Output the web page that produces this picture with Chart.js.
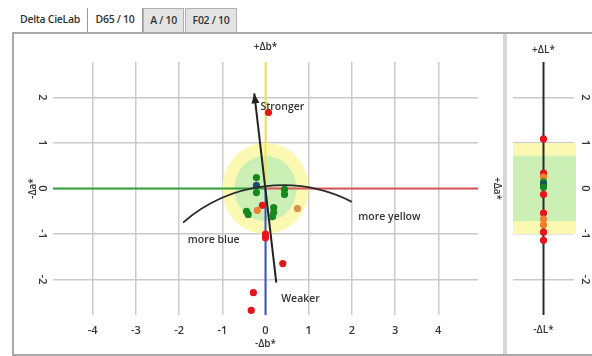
<!DOCTYPE html>
<html>
<head>
<meta charset="utf-8">
<script src="https://cdn.jsdelivr.net/npm/chart.js@4.4.0/dist/chart.umd.min.js"></script>
<style>
  body { margin: 0; width: 592px; height: 356px; background: #fff; position: relative; overflow: hidden; font-family: "Open Sans", "Noto Sans", sans-serif; }
  .tab { position: absolute; top: 8px; height: 25px; line-height: 22px; font-size: 10.5px; font-weight: 600; color: #333; box-sizing: border-box; text-align: center; letter-spacing: -0.3px; }
  #panel { position: absolute; left: 12px; top: 32px; width: 600px; height: 320px; border: 2px solid #a9a9a9; border-right: none; }
  #sep { position: absolute; left: 503px; top: 34px; width: 4px; height: 320px; background: #d6d6d6; }
  #mainWrap { position: absolute; left: 14px; top: 35px; }
  #sideWrap { position: absolute; left: 507px; top: 35px; }
</style>
</head>
<body>
<div class="tab" style="left:13px;width:75px;border-right:1px solid #9a9a9a;">Delta CieLab</div>
<div class="tab" style="left:88px;width:55px;border-right:1px solid #9a9a9a;background:#fff;">D65 / 10</div>
<div class="tab" style="left:143px;width:41px;background:#e3e3e3;border:1px solid #b0b0b0;">A / 10</div>
<div class="tab" style="left:185px;width:52px;background:#e3e3e3;border:1px solid #b0b0b0;">F02 / 10</div>
<div id="panel"></div>
<div id="sep"></div>
<div id="mainWrap"><canvas id="mainChart" width="489" height="317"></canvas></div>
<div id="sideWrap"><canvas id="sideChart" width="83" height="317"></canvas></div>

<script>
// ---- data ----
const aTicks = [-4, -3, -2, -1, 0, 1, 2, 3, 4];
const bTicks = [-2, -1, 0, 1, 2];
const aRange = [-4.92, 4.92];
const bRange = [-2.78, 2.78];

// samples: da* (horizontal), db* (vertical)
const sampleDa = [-0.21, -0.21, -0.21, 0.44, 0.44, -0.07, -0.19, -0.44, -0.40, 0.19, 0.19, 0.16, 0.74, 0.00, 0.00, 0.07, 0.40, -0.28, -0.33];
const sampleDb = [0.24, 0.07, -0.09, -0.02, -0.13, -0.37, -0.48, -0.50, -0.57, -0.42, -0.53, -0.62, -0.44, -1.00, -1.08, 1.67, -1.65, -2.29, -2.68];
const sampleGrade = ["pass", "std", "pass", "pass", "pass", "fail", "warn", "pass", "pass", "pass", "pass", "pass", "tan", "fail", "fail", "fail", "fail", "fail", "fail"];

// dL* strip
const lightTicks = [-2, -1, 0, 1, 2];
const lightDL = [1.09, 0.34, 0.25, 0.14, 0.09, 0.03, -0.13, -0.54, -0.67, -0.80, -0.96, -1.14];
const lightGrade = ["fail", "fail", "warn", "pass", "std", "pass", "fail", "fail", "warn", "warn", "fail", "fail"];

// tolerance, chroma direction, hue arc
const tolOuter = 1.0;
const tolInner = 0.72;
const chromaLine = [[0.25, -2.07], [-0.26, 2.09]];
const hueArcCenter = [0.40, -3.27];
const hueArcRadius = 3.52;
const hueArcAngles = [-131, -63];

const noteText = ["Stronger", "Weaker", "more blue", "more yellow"];
const noteA = [0.39, 0.81, -1.2, 2.87];
const noteB = [1.78, -2.42, -1.14, -0.62];

// ---- style ----
const family = '"Open Sans", "Noto Sans", sans-serif';
const ink = "#333";
const gridColor = "#cacaca";
const gradeColor = { pass: "#17861d", fail: "#e3161c", warn: "#e8822e", tan: "#d9914c", std: "#1c4d6e" };
const tickFont = { family: family, size: 11, weight: "600" };
const titleFont = { family: family, size: 10, weight: "600" };

function fixTicks(list) {
    return function (scale) { scale.ticks = list.map(v => ({ value: v })); };
}

const plotDecor = {
    id: "plotDecor",
    beforeDatasetsDraw(chart) {
        const { ctx, scales: { x, y } } = chart;
        const cx = x.getPixelForValue(0), cy = y.getPixelForValue(0);
        ctx.save();
        [[tolOuter, "#fbf8b2"], [tolInner, "#ccefb6"]].forEach(([r, c]) => {
            ctx.beginPath();
            ctx.ellipse(cx, cy, x.getPixelForValue(r) - cx, cy - y.getPixelForValue(r), 0, 0, Math.PI * 2);
            ctx.fillStyle = c;
            ctx.fill();
        });
        ctx.restore();
    },
    afterDatasetsDraw(chart) {
        const { ctx, scales: { x, y } } = chart;
        ctx.save();
        // hue arc
        const ax = x.getPixelForValue(hueArcCenter[0]), ay = y.getPixelForValue(hueArcCenter[1]);
        const r = x.getPixelForValue(hueArcCenter[0] + hueArcRadius) - ax;
        ctx.beginPath();
        ctx.arc(ax, ay, r, hueArcAngles[0] * Math.PI / 180, hueArcAngles[1] * Math.PI / 180);
        ctx.strokeStyle = "#2b2b2b";
        ctx.lineWidth = 1.8;
        ctx.stroke();
        // arrow head on chroma line
        const x0 = x.getPixelForValue(chromaLine[0][0]), y0 = y.getPixelForValue(chromaLine[0][1]);
        const x1 = x.getPixelForValue(chromaLine[1][0]), y1 = y.getPixelForValue(chromaLine[1][1]);
        const ang = Math.atan2(y1 - y0, x1 - x0);
        ctx.beginPath();
        ctx.moveTo(x1, y1);
        ctx.lineTo(x1 - 10 * Math.cos(ang) + 4 * Math.sin(ang), y1 - 10 * Math.sin(ang) - 4 * Math.cos(ang));
        ctx.lineTo(x1 - 10 * Math.cos(ang) - 4 * Math.sin(ang), y1 - 10 * Math.sin(ang) + 4 * Math.cos(ang));
        ctx.closePath();
        ctx.fillStyle = "#222";
        ctx.fill();
        // notes
        ctx.font = "600 10.5px " + family;
        ctx.fillStyle = ink;
        ctx.textAlign = "center";
        ctx.textBaseline = "middle";
        noteText.forEach((t, i) => ctx.fillText(t, x.getPixelForValue(noteA[i]), y.getPixelForValue(noteB[i])));
        ctx.restore();
    }
};

function lineSet(pts, color, width) {
    return { data: pts.map(p => ({ x: p[0], y: p[1] })), showLine: true, borderColor: color, borderWidth: width, pointRadius: 0, order: 5 };
}

new Chart(document.getElementById("mainChart"), {
    type: "scatter",
    data: {
        datasets: [
            {
                data: sampleDa.map((a, i) => ({ x: a, y: sampleDb[i] })),
                pointBackgroundColor: sampleGrade.map(g => gradeColor[g]),
                pointBorderWidth: 0,
                pointRadius: 3.6,
                order: 0
            },
            lineSet([[aRange[0], 0], [0, 0]], "#35a03b", 2),
            lineSet([[0, 0], [aRange[1], 0]], "#d9555a", 2),
            lineSet([[0, 0], [0, bRange[1]]], "#f2e64a", 2),
            lineSet([[0, 0], [0, bRange[0]]], "#3a55c8", 2),
            Object.assign(lineSet(chromaLine, "#222", 2), { order: 1 })
        ]
    },
    options: {
        responsive: false,
        animation: false,
        layout: { padding: 0 },
        plugins: { legend: { display: false }, tooltip: { enabled: false } },
        scales: {
            x: {
                type: "linear", position: "bottom", min: aRange[0], max: aRange[1],
                afterBuildTicks: fixTicks(aTicks),
                afterFit: s => { s.height = 37; },
                grid: { color: gridColor, lineWidth: 1.5, drawTicks: false },
                border: { display: false },
                ticks: { padding: 9, color: ink, font: tickFont },
                title: { display: true, text: "-Δb*", color: ink, font: titleFont, padding: { top: 0, bottom: 2 } }
            },
            xTop: {
                type: "linear", position: "top", min: aRange[0], max: aRange[1],
                afterFit: s => { s.height = 27; },
                grid: { display: false }, border: { display: false }, ticks: { display: false },
                title: { display: true, text: "+Δb*", color: ink, font: titleFont, padding: { top: 6, bottom: 0 } }
            },
            y: {
                type: "linear", position: "left", min: bRange[0], max: bRange[1],
                afterBuildTicks: fixTicks(bTicks),
                afterFit: s => { s.width = 39; },
                grid: { color: gridColor, lineWidth: 1.5, drawTicks: false },
                border: { display: false },
                ticks: { padding: 6, color: ink, font: tickFont, minRotation: -90, maxRotation: -90, crossAlign: "center" },
                title: { display: true, text: "-Δa*", color: ink, font: titleFont, padding: { top: 13, bottom: 0 } }
            },
            yRight: {
                type: "linear", position: "right", min: bRange[0], max: bRange[1],
                afterFit: s => { s.width = 25; },
                grid: { display: false }, border: { display: false }, ticks: { display: false },
                title: { display: true, text: "+Δa*", color: ink, font: titleFont, padding: { top: 0, bottom: 0 } }
            }
        }
    },
    plugins: [plotDecor]
});

const stripDecor = {
    id: "stripDecor",
    beforeDatasetsDraw(chart) {
        const { ctx, chartArea: ca, scales: { y } } = chart;
        ctx.save();
        [[tolOuter, "#fbf8b2"], [tolInner, "#ccefb6"]].forEach(([r, c]) => {
            const top = y.getPixelForValue(r), bot = y.getPixelForValue(-r);
            ctx.fillStyle = c;
            ctx.fillRect(ca.left, top, ca.right - ca.left + 2, bot - top);
        });
        ctx.restore();
    }
};

new Chart(document.getElementById("sideChart"), {
    type: "scatter",
    data: {
        datasets: [
            {
                data: lightDL.map(v => ({ x: 0, y: v })),
                pointBackgroundColor: lightGrade.map(g => gradeColor[g]),
                pointBorderWidth: 0,
                pointRadius: 3.6,
                order: 0
            },
            lineSet([[0, bRange[0]], [0, bRange[1]]], "#2a2a2a", 2)
        ]
    },
    options: {
        responsive: false,
        animation: false,
        layout: { padding: { left: 6 } },
        plugins: { legend: { display: false }, tooltip: { enabled: false } },
        scales: {
            x: {
                type: "linear", position: "bottom", min: -1, max: 1,
                afterFit: s => { s.height = 37; },
                grid: { display: false }, border: { display: false }, ticks: { display: false },
                title: { display: true, text: "-ΔL*", color: ink, font: titleFont, padding: { top: 0, bottom: 16 } }
            },
            xTop: {
                type: "linear", position: "top", min: -1, max: 1,
                afterFit: s => { s.height = 27; },
                grid: { display: false }, border: { display: false }, ticks: { display: false },
                title: { display: true, text: "+ΔL*", color: ink, font: titleFont, padding: { top: 9, bottom: 0 } }
            },
            y: {
                type: "linear", position: "right", min: bRange[0], max: bRange[1],
                afterBuildTicks: fixTicks(lightTicks),
                afterFit: s => { s.width = 16; },
                grid: { color: gridColor, lineWidth: 1.5, drawTicks: false },
                border: { display: false },
                ticks: { padding: 6, color: ink, font: tickFont, minRotation: -90, maxRotation: -90, crossAlign: "center" }
            }
        }
    },
    plugins: [stripDecor]
});
</script>
</body>
</html>
